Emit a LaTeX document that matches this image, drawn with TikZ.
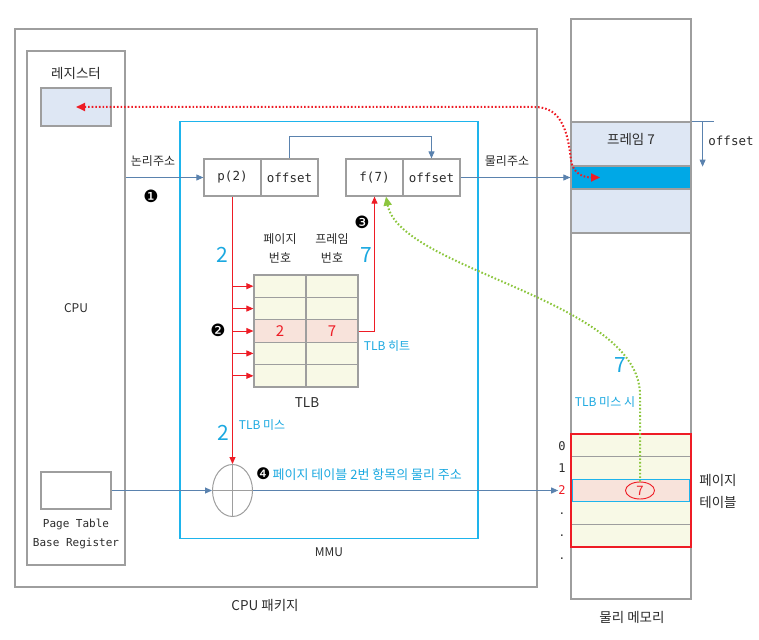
\documentclass[tikz,border=0pt]{standalone}
\usepackage{fontspec}
\setmainfont{Noto Sans CJK KR}
\newfontfamily\monof{DejaVu Sans Mono}
\newfontfamily\dingf{DejaVu Sans}
\usetikzlibrary{arrows.meta,shapes.geometric}

\definecolor{linegray}{HTML}{9E9E9E}
\definecolor{mmucyan}{HTML}{1EB4EC}
\definecolor{steel}{HTML}{5A82AE}
\definecolor{redc}{HTML}{EE1C25}
\definecolor{greenc}{HTML}{8CC63E}
\definecolor{lightblue}{HTML}{DEE7F4}
\definecolor{stripblue}{HTML}{00A8E6}
\definecolor{lightyellow}{HTML}{F8F9E6}
\definecolor{pinkfill}{HTML}{F8E3DB}
\definecolor{cyantext}{HTML}{1AA8E0}
\definecolor{textdark}{HTML}{2B2B2B}

\begin{document}
\begin{tikzpicture}[x=1pt,y=-1pt,
  box/.style={draw=linegray, line width=1.2pt, inner sep=0pt},
  lbl/.style={inner sep=0pt, text=textdark, font=\fontsize{12}{19}\selectfont},
  biglbl/.style={inner sep=0pt, text=textdark, font=\fontsize{13.5}{22}\selectfont},
  cyanlbl/.style={inner sep=0pt, text=cyantext, font=\fontsize{12}{13}\selectfont},
  cyannum/.style={inner sep=0pt, text=cyantext, font=\fontsize{21}{22}\selectfont},
  mono/.style={text=textdark, font=\monof\fontsize{12.5}{14}\selectfont},
  monosmall/.style={inner sep=0pt, text=textdark, font=\monof\fontsize{11}{19}\selectfont},
  stepnum/.style={inner sep=0pt, text=black, font=\dingf\fontsize{17}{18}\selectfont},
  cell/.style={box, fill=white, minimum width=57, minimum height=37, mono},
  tlbcell/.style={box, fill=lightyellow, minimum width=52, minimum height=22.4},
  ptrow/.style={box, fill=lightyellow, minimum width=120, minimum height=22.6},
  memblock/.style={box, fill=lightblue, minimum width=120},
  tip/.style={-{Triangle[length=7pt,width=6pt]}},
  bluearrow/.style={draw=steel, line width=0.9pt, tip},
  redarrow/.style={draw=redc, line width=0.9pt, tip},
  reddots/.style={draw=redc, line width=2pt, dash pattern=on 1.6pt off 2pt,
    {Triangle[length=9pt,width=8pt]}-{Triangle[length=9pt,width=8pt]}},
  greendots/.style={draw=greenc, line width=2pt, dash pattern=on 1.6pt off 2pt,
    -{Triangle[length=9pt,width=8pt]}}
]
\useasboundingbox (0,0) rectangle (759,639);

% CPU package and CPU
\node[box, minimum width=522, minimum height=558] (pkg) at (276,308) {};
\node[biglbl] (pkgl) at (265,605) {CPU 패키지};
\node[box, minimum width=98, minimum height=514] (cpu) at (76,308) {};
\node[biglbl] (regl) at (76,73) {레지스터};
\node[box, fill=lightblue, minimum width=70, minimum height=38] (reg) at (76,107) {};
\node[lbl] (cpul) at (76,308) {CPU};
\node[box, fill=white, minimum width=70, minimum height=37] (ptbr) at (76,490.5) {};
\node[monosmall, align=center] (ptbrl) at (76,534) {Page Table\\Base Register};

% MMU
\node[draw=mmucyan, line width=1.8pt, inner sep=0pt, minimum width=298, minimum height=417] (mmu) at (329,330) {};
\node[lbl] (mmul) at (329,552) {MMU};

% logical and physical address registers
\node[cell] (pc) at (232.5,177.5) {p(2)};
\node[cell] (po) at (289.5,177.5) {offset};
\node[cell] (fc) at (374.5,177.5) {f(7)};
\node[cell] (fo) at (431.5,177.5) {offset};
\node[lbl] (logl) at (153,161) {논리주소};
\node[stepnum] (s1) at (151,196) {❶};
\node[lbl] (phyl) at (507,161) {물리주소};

% TLB
\foreach \i/\y in {1/286.2, 2/308.6, 3/331, 4/353.4, 5/375.8} {
  \node[tlbcell] (ta\i) at (280,\y) {};
  \node[tlbcell] (tb\i) at (332,\y) {};
}
\node[tlbcell, fill=pinkfill, text=redc, font=\fontsize{15}{16}\selectfont] (ta3) at (280,331) {2};
\node[tlbcell, fill=pinkfill, text=redc, font=\fontsize{15}{16}\selectfont] (tb3) at (332,331) {7};
\node[lbl, align=center] (tha) at (280,248) {페이지\\번호};
\node[lbl, align=center] (thb) at (332,248) {프레임\\번호};
\node[biglbl] (tlbl) at (307,403) {TLB};

% adder
\node[draw=linegray, line width=1pt, ellipse, inner sep=0pt, minimum width=40, minimum height=52] (add) at (232.5,490.5) {};
\draw[linegray, line width=1pt] (add.north) -- (add.south) (add.west) -- (add.east);

% physical memory
\node[box, minimum width=120, minimum height=580] (mem) at (631,309) {};
\node[biglbl] (meml) at (632,617) {물리 메모리};
\node[memblock, minimum height=44] (fr7) at (631,144) {};
\node[biglbl] (fr7l) at (631,139) {프레임 7};
\node[box, fill=stripblue, minimum width=120, minimum height=23] (strip) at (631,177.5) {};
\node[memblock, minimum height=44] (fr7b) at (631,211) {};

% page table
\foreach \i/\y in {0/445.3, 1/467.9, 3/513.1, 4/535.7} {
  \node[ptrow] (pt\i) at (631,\y) {};
}
\node[draw=mmucyan, line width=1.2pt, fill=pinkfill, inner sep=0pt, minimum width=117, minimum height=22.6] (pt2) at (631,490.5) {};
\node[draw=redc, line width=2.6pt, inner sep=0pt, minimum width=120, minimum height=113] (ptab) at (631,490.5) {};
\node[draw=redc, line width=0.9pt, ellipse, inner sep=0pt, minimum width=29, minimum height=17, text=redc, font=\fontsize{13}{14}\selectfont] (e7) at (640,490.5) {7};
\node[biglbl, align=center] (ptl) at (718,491) {페이지\\테이블};
\node[monosmall, font=\monof\fontsize{12}{19}\selectfont] (idx0) at (562,446) {0};
\node[monosmall, font=\monof\fontsize{12}{19}\selectfont] (idx1) at (562,468) {1};
\node[monosmall, font=\monof\fontsize{12}{19}\selectfont, text=redc] (idx2) at (562,490.5) {2};
\node[monosmall] (dot1) at (562,514) {.};
\node[monosmall] (dot2) at (562,536) {.};
\node[monosmall] (dot3) at (562,559) {.};

% offset marker beside frame 7
\draw[steel, line width=0.9pt] (fr7.north east) -- ++(22,0);
\draw[bluearrow] ([xshift=11]fr7.north east) -- ([xshift=11]fr7.south east);
\node[mono, inner sep=0pt] (offl) at (731,141) {offset};

% address flow
\draw[bluearrow] (cpu.east |- pc.west) -- (pc.west);
\draw[bluearrow] (po.north) -- ++(0,-22) -| (fo.north);
\draw[bluearrow] (fo.east) -- (strip.west);

% TLB lookup
\draw[redarrow] (pc.south) -- (add.north);
\foreach \i in {1,...,5} {
  \draw[redarrow] (pc.south |- ta\i.west) -- (ta\i.west);
}
\draw[redarrow] (tb3.east) -| (fc.south);
\node[cyannum] (n2a) at (222,255) {2};
\node[stepnum] (s2) at (218,330) {❷};
\node[stepnum] (s3) at (362,222) {❸};
\node[cyannum] (n7a) at (366,255) {7};
\node[cyanlbl] (hitl) at (387,346) {TLB 히트};
\node[cyannum] (n2b) at (223,433) {2};
\node[cyanlbl] (missl) at (262,425) {TLB 미스};

% page table access on TLB miss
\draw[bluearrow] (ptbr.east) -- (add.west);
\draw[bluearrow] (add.east) -- (idx2.west);
\node[inner sep=0pt, anchor=west, text=cyantext, font=\fontsize{13}{14}\selectfont] (s4) at (256,474) {{\dingf\fontsize{16}{16}\selectfont\color{black}❹}\,페이지 테이블 2번 항목의 물리 주소};
\node[cyanlbl] (missl2) at (605,402) {TLB 미스 시};
\node[cyannum] (n7b) at (620,365) {7};
\draw[greendots] (e7.north) -- (640,395) .. controls (640,300) and (400,270) .. ([xshift=11.5]fc.south);

% register load
\coordinate (rtip) at (600,177.5);
\draw[reddots] (reg.center) -- (535,107) .. controls (563,107) and (568,135) .. (571,160) .. controls (573,175) and (585,177.5) .. (rtip);
\end{tikzpicture}
\end{document}
